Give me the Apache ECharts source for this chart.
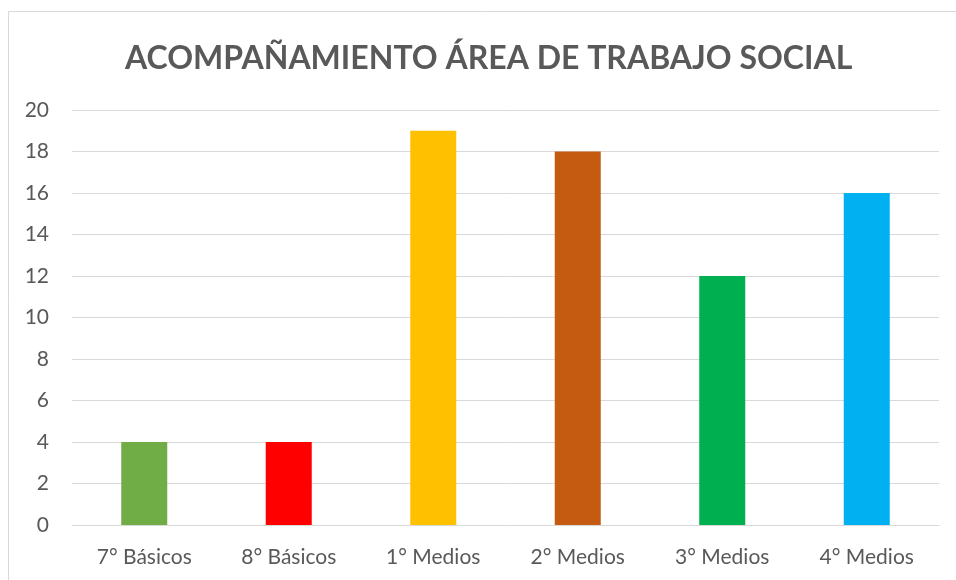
<!DOCTYPE html>
<html><head><meta charset="utf-8">
<script src="https://cdn.jsdelivr.net/npm/echarts@6/dist/echarts.min.js"></script>
<style>html,body{margin:0;padding:0;background:#fff}#c{width:956px;height:580px}</style>
</head><body><div id="c"></div>
<script>
const categories = ["7° Básicos","8° Básicos","1° Medios","2° Medios","3° Medios","4° Medios"];
const values = [4, 4, 19, 18, 12, 16];
const colors = ["#70AD47","#FF0000","#FFC000","#C55A11","#00B050","#00B0F0"];
const titleText = "ACOMPAÑAMIENTO ÁREA DE TRABAJO SOCIAL";

const chart = echarts.init(document.getElementById('c'));
chart.setOption({
  animation: false,
  title: {
    text: titleText, left: 120, top: 38,
    textStyle: {fontFamily: 'Lato', fontWeight: 'bold', fontSize: 32, color: '#595959'}
  },
  graphic: [{type: 'rect', shape: {x: 8.5, y: 11.5, width: 960, height: 600},
    style: {fill: 'none', stroke: '#d9d9d9', lineWidth: 1}, silent: true}],
  grid: {left: 72, right: 17, top: 110, bottom: 55, containLabel: false},
  xAxis: {
    type: 'category', data: categories,
    axisLine: {show: true, lineStyle: {color: '#d9d9d9', width: 1}},
    axisTick: {show: false},
    axisLabel: {fontFamily: 'Lato', fontSize: 21, color: '#595959', margin: 22}
  },
  yAxis: {
    type: 'value', min: 0, max: 20, interval: 2,
    axisLine: {show: false}, axisTick: {show: false},
    splitLine: {lineStyle: {color: '#d9d9d9', width: 1}},
    axisLabel: {fontFamily: 'Lato', fontSize: 21, color: '#595959', margin: 23}
  },
  series: [{
    type: 'bar', barWidth: 46,
    data: values.map((v, i) => ({value: v, itemStyle: {color: colors[i]}}))
  }]
});
</script></body></html>
